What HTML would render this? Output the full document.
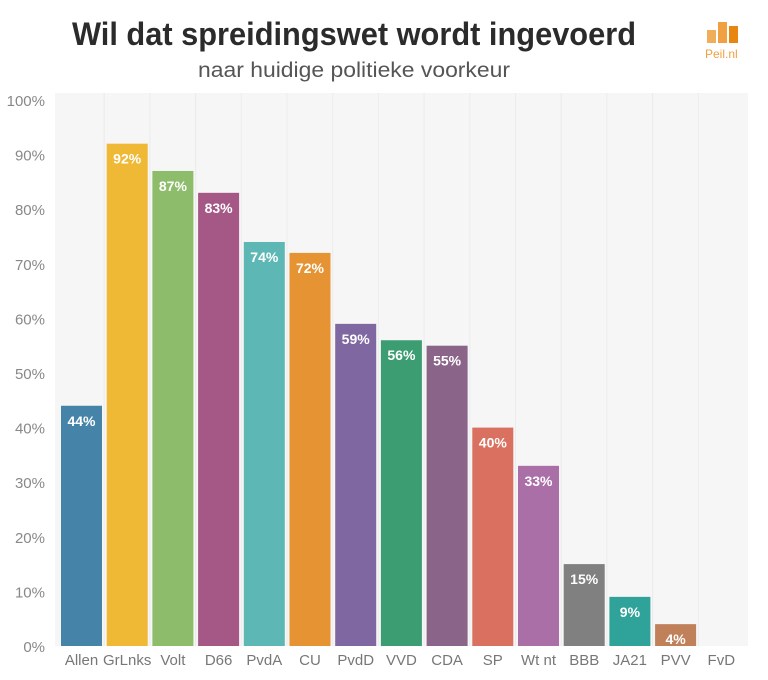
<!DOCTYPE html>
<html><head><meta charset="utf-8"><style>
body{margin:0;background:#fff;width:768px;height:675px;overflow:hidden;font-family:"Liberation Sans",sans-serif;}
</style></head><body>
<svg width="768" height="675">
<text x="354" y="45" text-anchor="middle" font-size="32" font-weight="bold" fill="#2b2b2b" textLength="564" lengthAdjust="spacingAndGlyphs">Wil dat spreidingswet wordt ingevoerd</text>
<text x="354" y="77" text-anchor="middle" font-size="21" fill="#555" textLength="312" lengthAdjust="spacingAndGlyphs">naar huidige politieke voorkeur</text>
<g>
<rect x="707" y="30" width="9" height="13" fill="#f0ae5a"/>
<rect x="718" y="22" width="9" height="21" fill="#f0a040"/>
<rect x="729" y="26" width="9" height="17" fill="#e8870f"/>
<text x="705" y="58" font-size="12" fill="#f0a040">Peil.nl</text>
</g>
<rect x="55" y="93" width="693" height="553" fill="#f6f6f6"/>
<g id="grid"></g><g id="bars"></g><g id="axes"></g>
</svg>
<script>
const categories=["Allen","GrLnks","Volt","D66","PvdA","CU","PvdD","VVD","CDA","SP","Wt nt","BBB","JA21","PVV","FvD"];
const values=[44,92,87,83,74,72,59,56,55,40,33,15,9,4,0];
const colors=["#4584a8","#f0b935","#8dbd6a","#a55886","#5db8b5","#e59333","#7f68a2","#3c9c72","#8a6489","#d97060","#ab6fa8","#808080","#2fa39a","#c0805a","#999"];
const ticks=[0,10,20,30,40,50,60,70,80,90,100];
const tickLabels=["0%","10%","20%","30%","40%","50%","60%","70%","80%","90%","100%"];
const ns="http://www.w3.org/2000/svg";
const x0=58.5,band=45.7,y0=646,y100=100;
const y=v=>y0-(v/100)*(y0-y100);
const xs=i=>x0+i*band;
const g=document.getElementById('grid'),b=document.getElementById('bars'),a=document.getElementById('axes');
function mk(t,at,p){const e=document.createElementNS(ns,t);for(const k in at)e.setAttribute(k,at[k]);p.appendChild(e);return e;}
for(let i=1;i<categories.length;i++){
 const l=mk('line',{x1:xs(i),x2:xs(i),y1:93,y2:646,stroke:'#ececec','stroke-width':1},g);
 
 
}
ticks.forEach((t,i)=>{
 const tx=mk('text',{x:45,y:y(t)+6,'text-anchor':'end','font-size':15,fill:'#888'},a);
 tx.textContent=tickLabels[i];
 
 
});
categories.forEach((c,i)=>{
 const bx=xs(i)+2.5,bw=41;
 if(values[i]>0){
  const r=mk('rect',{x:bx,y:y(values[i]),width:bw,height:y0-y(values[i]),fill:colors[i]},b);
  
  
  const t=mk('text',{x:bx+bw/2,y:y(values[i])+20,'text-anchor':'middle','font-size':14,'font-weight':'bold',fill:'#fff'},b);
  t.textContent=values[i]+'%';
  
  
 }
 const l=mk('text',{x:bx+bw/2,y:665,'text-anchor':'middle','font-size':15,fill:'#777'},a);
 l.textContent=c;
 
 
});
</script>
</body></html>
